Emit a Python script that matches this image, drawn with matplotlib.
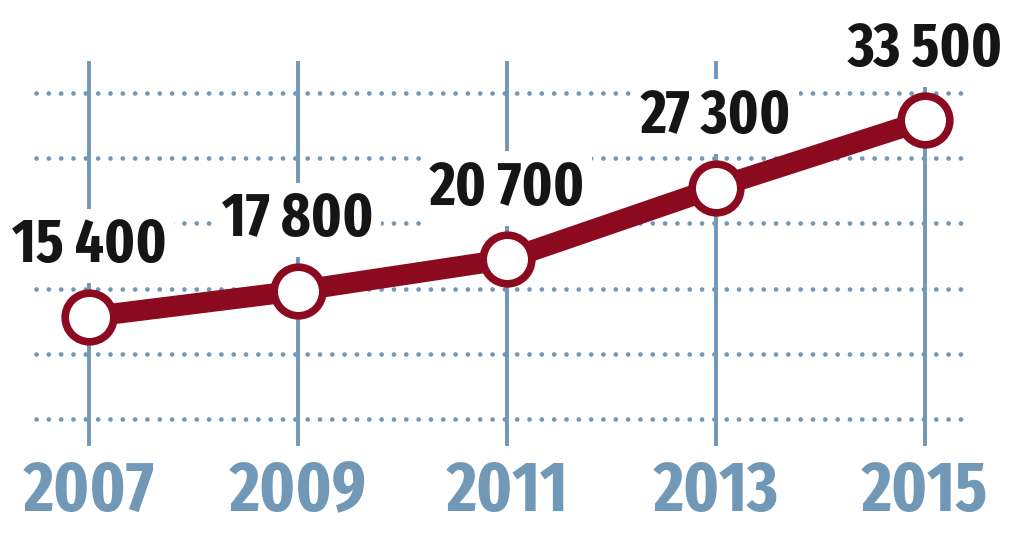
import matplotlib.pyplot as plt
from matplotlib.transforms import blended_transform_factory

years = [2007, 2009, 2011, 2013, 2015]
values = [15400, 17800, 20700, 27300, 33500]
labels = ['15 400', '17 800', '20 700', '27 300', '33 500']
grid_levels = [6000, 12000, 18000, 24000, 30000, 36000]

red = '#8c0a1f'
blue = '#7198b6'
font = ['Fira Sans Extra Condensed', 'Barlow Condensed', 'Saira ExtraCondensed', 'DejaVu Sans']

fig = plt.figure(figsize=(10.24, 5.51), dpi=100)
ax = fig.add_axes([0, 0, 1, 1])
ax.set_xlim(2006.148, 2015.947)
ax.set_ylim(-6150, 44560)
ax.axis('off')

# dotted horizontal guides
for lvl in grid_levels:
    ax.plot([2006.49, 2015.43], [lvl, lvl], color=blue, lw=3.4,
            linestyle=(0, (0.01, 2.6)), dash_capstyle='round', zorder=1)

# vertical year lines
for yr in years:
    ax.plot([yr, yr], [3500, 38900], color=blue, lw=2.8, zorder=1,
            solid_capstyle='butt')

ax.plot(years, values, color=red, lw=15, zorder=3, solid_capstyle='butt')
ax.plot(years, values, 'o', ms=35, mfc='white', mec=red, mew=5.5, zorder=4)

# value labels knock out the guides but sit under the line
for yr, v, lab in zip(years, values, labels):
    ax.annotate(lab, (yr, v), xytext=(0, 51), textcoords='offset points',
                ha='center', va='center', fontsize=44, fontweight='bold',
                family=font, color='#151515', zorder=2,
                bbox=dict(boxstyle='square,pad=0.12', fc='white', ec='none'))

trans = blended_transform_factory(ax.transData, ax.transAxes)
for yr in years:
    ax.text(yr, 0.108, str(yr), transform=trans, ha='center', va='center',
            fontsize=51, fontweight='bold', family=font, color=blue)

fig.savefig('out.png', dpi=100)
